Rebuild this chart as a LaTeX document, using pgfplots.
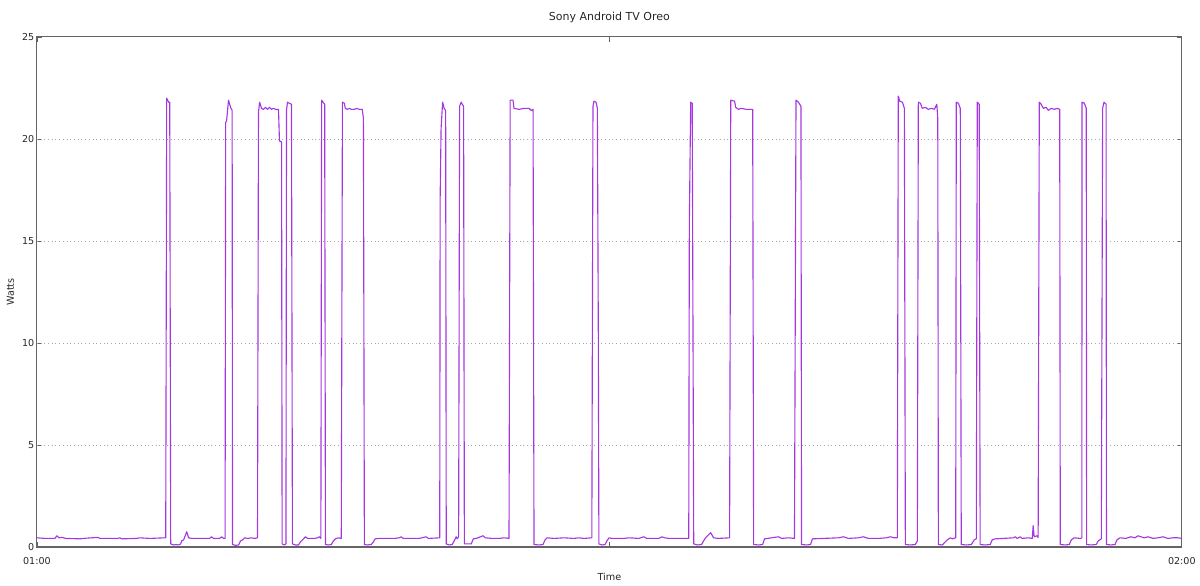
\documentclass[border=0pt]{standalone}
\usepackage{pgfplots}
\pgfplotsset{compat=1.18}
\usepackage{fontspec}
\setmainfont{DejaVu Sans}
\definecolor{tvline}{RGB}{165,55,225}
\definecolor{axgray}{RGB}{100,100,100}
\begin{document}
\begin{tikzpicture}
\begin{axis}[
  name=ax,
  scale only axis,
  width=860.25bp, height=383.25bp,
  xmin=0, xmax=60, ymin=0, ymax=25,
  xtick={0,30,60}, xticklabels={01:00,,02:00},
  ytick={0,5,10,15,20,25},
  extra y ticks={5,10,15,20}, extra y tick labels={},
  extra y tick style={grid=major, major tick length=0pt},
  grid style={dash pattern=on 0.6pt off 2.2pt, gray!70, line width=0.6pt},
  axis line style={axgray, line width=0.8pt},
  tick style={axgray, line width=0.6pt},
  major tick length=4bp,
  tick align=inside,
  /pgf/number format/assume math mode=true,
  tick label style={font=\fontsize{7.2}{8}\selectfont, text=black!85},
  xticklabel style={yshift=-4.5bp},
  yticklabel style={xshift=1.5bp},
  xlabel={Time}, ylabel={Watts},
  label style={font=\fontsize{7.3}{8}\selectfont, text=black!85},
  xlabel style={at={(axis description cs:0.5,0)}, anchor=center, yshift=-22.5bp},
  ylabel style={at={(axis description cs:0,0.5)}, anchor=center, yshift=20bp},
  every axis title shift=0pt,
  title={Sony Android TV Oreo},
  title style={font=\fontsize{8.3}{9}\selectfont, text=black!85, at={(axis description cs:0.5,1)}, anchor=center, yshift=14.25bp},
]
\addplot[tvline, line width=0.85pt, line join=round] coordinates {
(0.00,0.45)(0.42,0.42)(0.94,0.42)(1.05,0.55)(1.15,0.45)(1.31,0.47)(1.52,0.42)(2.25,0.40)(2.56,0.43)(3.19,0.47)(3.30,0.42)(4.24,0.42)(4.34,0.45)(4.45,0.40)(5.23,0.42)(5.39,0.45)(5.91,0.42)(6.70,0.45)
(6.75,0.45)(6.80,22.0)(6.85,21.9)(6.90,21.8)(6.96,21.8)(7.01,0.15)(7.17,0.10)(7.27,0.12)(7.43,0.10)(7.53,0.15)(7.59,0.30)(7.69,0.35)(7.85,0.75)(7.95,0.45)(8.11,0.42)(9.05,0.42)(9.15,0.50)(9.26,0.42)(9.57,0.42)(9.68,0.50)(9.78,0.42)(9.86,0.42)
(9.89,20.8)(9.94,20.9)(10.04,21.9)(10.10,21.7)(10.17,21.5)(10.23,21.4)(10.25,0.12)(10.41,0.08)(10.57,0.10)(10.67,0.30)(10.78,0.35)(10.88,0.45)(11.04,0.42)(11.25,0.45)(11.41,0.42)(11.56,0.45)
(11.61,21.3)(11.67,21.8)(11.77,21.5)(11.87,21.45)(11.98,21.55)(12.08,21.45)(12.19,21.55)(12.29,21.45)(12.40,21.5)(12.50,21.45)(12.66,21.45)(12.71,19.9)(12.82,19.85)(12.85,0.15)(12.97,0.10)(13.05,0.15)
(13.08,21.4)(13.13,21.8)(13.23,21.75)(13.34,21.7)(13.39,0.15)(13.55,0.10)(13.71,0.10)(13.81,0.25)(13.92,0.35)(14.07,0.50)(14.18,0.42)(14.54,0.42)(14.70,0.45)(14.80,0.50)(14.88,0.42)
(14.92,21.9)(14.99,21.8)(15.08,21.7)(15.12,0.12)(15.27,0.10)(15.43,0.12)(15.54,0.30)(15.64,0.40)(15.80,0.45)(15.95,0.42)
(16.01,21.8)(16.11,21.75)(16.16,21.5)(16.27,21.45)(16.37,21.5)(16.48,21.45)(16.64,21.45)(16.74,21.5)(16.90,21.45)(17.05,21.45)(17.11,21.0)(17.16,0.12)(17.32,0.10)(17.52,0.12)(17.63,0.25)(17.73,0.40)(17.94,0.42)(18.73,0.42)(18.99,0.45)(19.09,0.50)(19.20,0.42)(19.77,0.42)(20.04,0.42)(20.40,0.50)(20.51,0.42)(21.11,0.45)
(21.13,17.0)(21.18,20.5)(21.26,21.8)(21.34,21.5)(21.42,21.4)(21.45,0.15)(21.60,0.10)(21.76,0.12)(21.87,0.30)(21.97,0.50)(22.02,0.40)(22.10,0.50)
(22.15,21.6)(22.23,21.8)(22.29,21.7)(22.36,21.6)(22.40,0.15)(22.61,0.15)(22.76,0.15)(22.87,0.40)(23.02,0.42)(23.38,0.55)(23.49,0.45)(23.86,0.42)(24.22,0.42)(24.48,0.45)(24.74,0.42)
(24.80,21.9)(24.95,21.9)(25.00,21.5)(25.27,21.45)(25.53,21.5)(25.79,21.5)(25.90,21.4)(26.00,21.45)(26.05,0.12)(26.31,0.10)(26.52,0.12)(26.63,0.35)(26.73,0.45)(27.10,0.42)(27.62,0.45)(28.14,0.42)(28.40,0.45)(28.67,0.42)(29.08,0.45)
(29.14,21.6)(29.19,21.85)(29.30,21.8)(29.37,21.5)(29.42,10.5)(29.45,0.15)(29.61,0.10)(29.77,0.12)(29.87,0.30)(29.98,0.45)(30.14,0.42)(30.76,0.42)(31.03,0.45)(31.54,0.42)(31.81,0.50)(31.96,0.42)(32.59,0.42)(32.75,0.50)(32.90,0.45)(33.11,0.42)(34.16,0.42)
(34.19,15.8)(34.26,21.8)(34.34,21.75)(34.42,0.15)(34.62,0.10)(34.83,0.12)(34.94,0.30)(35.04,0.45)(35.31,0.70)(35.46,0.45)(35.72,0.42)(36.30,0.45)
(36.36,21.9)(36.56,21.85)(36.62,21.55)(36.77,21.45)(36.88,21.5)(37.19,21.45)(37.51,21.45)(37.56,0.12)(37.82,0.10)(38.03,0.12)(38.13,0.40)(38.50,0.45)(38.87,0.50)(39.02,0.42)(39.39,0.45)(39.70,0.42)
(39.78,21.9)(39.91,21.8)(40.04,21.6)(40.07,0.12)(40.33,0.10)(40.54,0.12)(40.64,0.40)(41.22,0.42)(42.00,0.45)(42.27,0.50)(42.53,0.42)(43.05,0.45)(43.31,0.50)(43.57,0.42)(44.10,0.42)(44.51,0.45)(44.73,0.50)(44.93,0.45)(45.09,0.45)
(45.14,22.1)(45.22,21.85)(45.36,21.8)(45.46,21.5)(45.51,0.12)(45.77,0.10)(46.03,0.12)(46.14,0.30)
(46.19,21.8)(46.30,21.75)(46.40,21.5)(46.56,21.55)(46.71,21.45)(46.87,21.5)(47.03,21.45)(47.16,21.7)(47.21,21.0)(47.24,0.12)(47.45,0.10)(47.55,0.20)(47.71,0.35)(47.87,0.45)(47.97,0.40)(48.15,0.45)
(48.18,21.8)(48.29,21.75)(48.39,21.5)(48.44,0.12)(48.71,0.10)(48.97,0.12)(49.12,0.35)(49.23,0.40)
(49.28,21.8)(49.38,21.7)(49.43,0.12)(49.69,0.10)(49.96,0.12)(50.06,0.35)(50.22,0.40)(50.64,0.42)(51.16,0.45)(51.27,0.50)(51.37,0.42)(51.53,0.50)(51.63,0.42)(51.95,0.45)(52.16,0.42)(52.21,1.05)(52.26,0.50)(52.42,0.55)(52.47,0.45)
(52.53,21.8)(52.63,21.7)(52.74,21.5)(52.89,21.55)(53.00,21.4)(53.16,21.5)(53.31,21.45)(53.47,21.5)(53.60,21.45)(53.63,0.12)(53.89,0.10)(54.10,0.12)(54.21,0.35)(54.36,0.45)(54.68,0.42)(54.76,0.45)
(54.77,21.8)(54.89,21.75)(54.99,21.5)(55.01,0.12)(55.25,0.10)(55.51,0.12)(55.62,0.30)(55.78,0.40)
(55.85,21.5)(55.92,21.8)(56.03,21.7)(56.05,0.12)(56.29,0.10)(56.50,0.12)(56.60,0.35)(56.76,0.45)(57.07,0.42)(57.33,0.50)(57.54,0.45)(57.70,0.55)(57.86,0.50)(58.02,0.45)(58.23,0.50)(58.49,0.42)(58.75,0.45)(59.01,0.50)(59.27,0.42)(59.53,0.45)(59.79,0.45)(60.00,0.42)
};
\end{axis}
\path (ax.south west) ++(-27.75bp,-28.5bp) coordinate (bl);
\path (ax.north east) ++(12bp,27.75bp) coordinate (tr);
\path[use as bounding box] (bl) rectangle (tr);
\end{tikzpicture}
\end{document}
